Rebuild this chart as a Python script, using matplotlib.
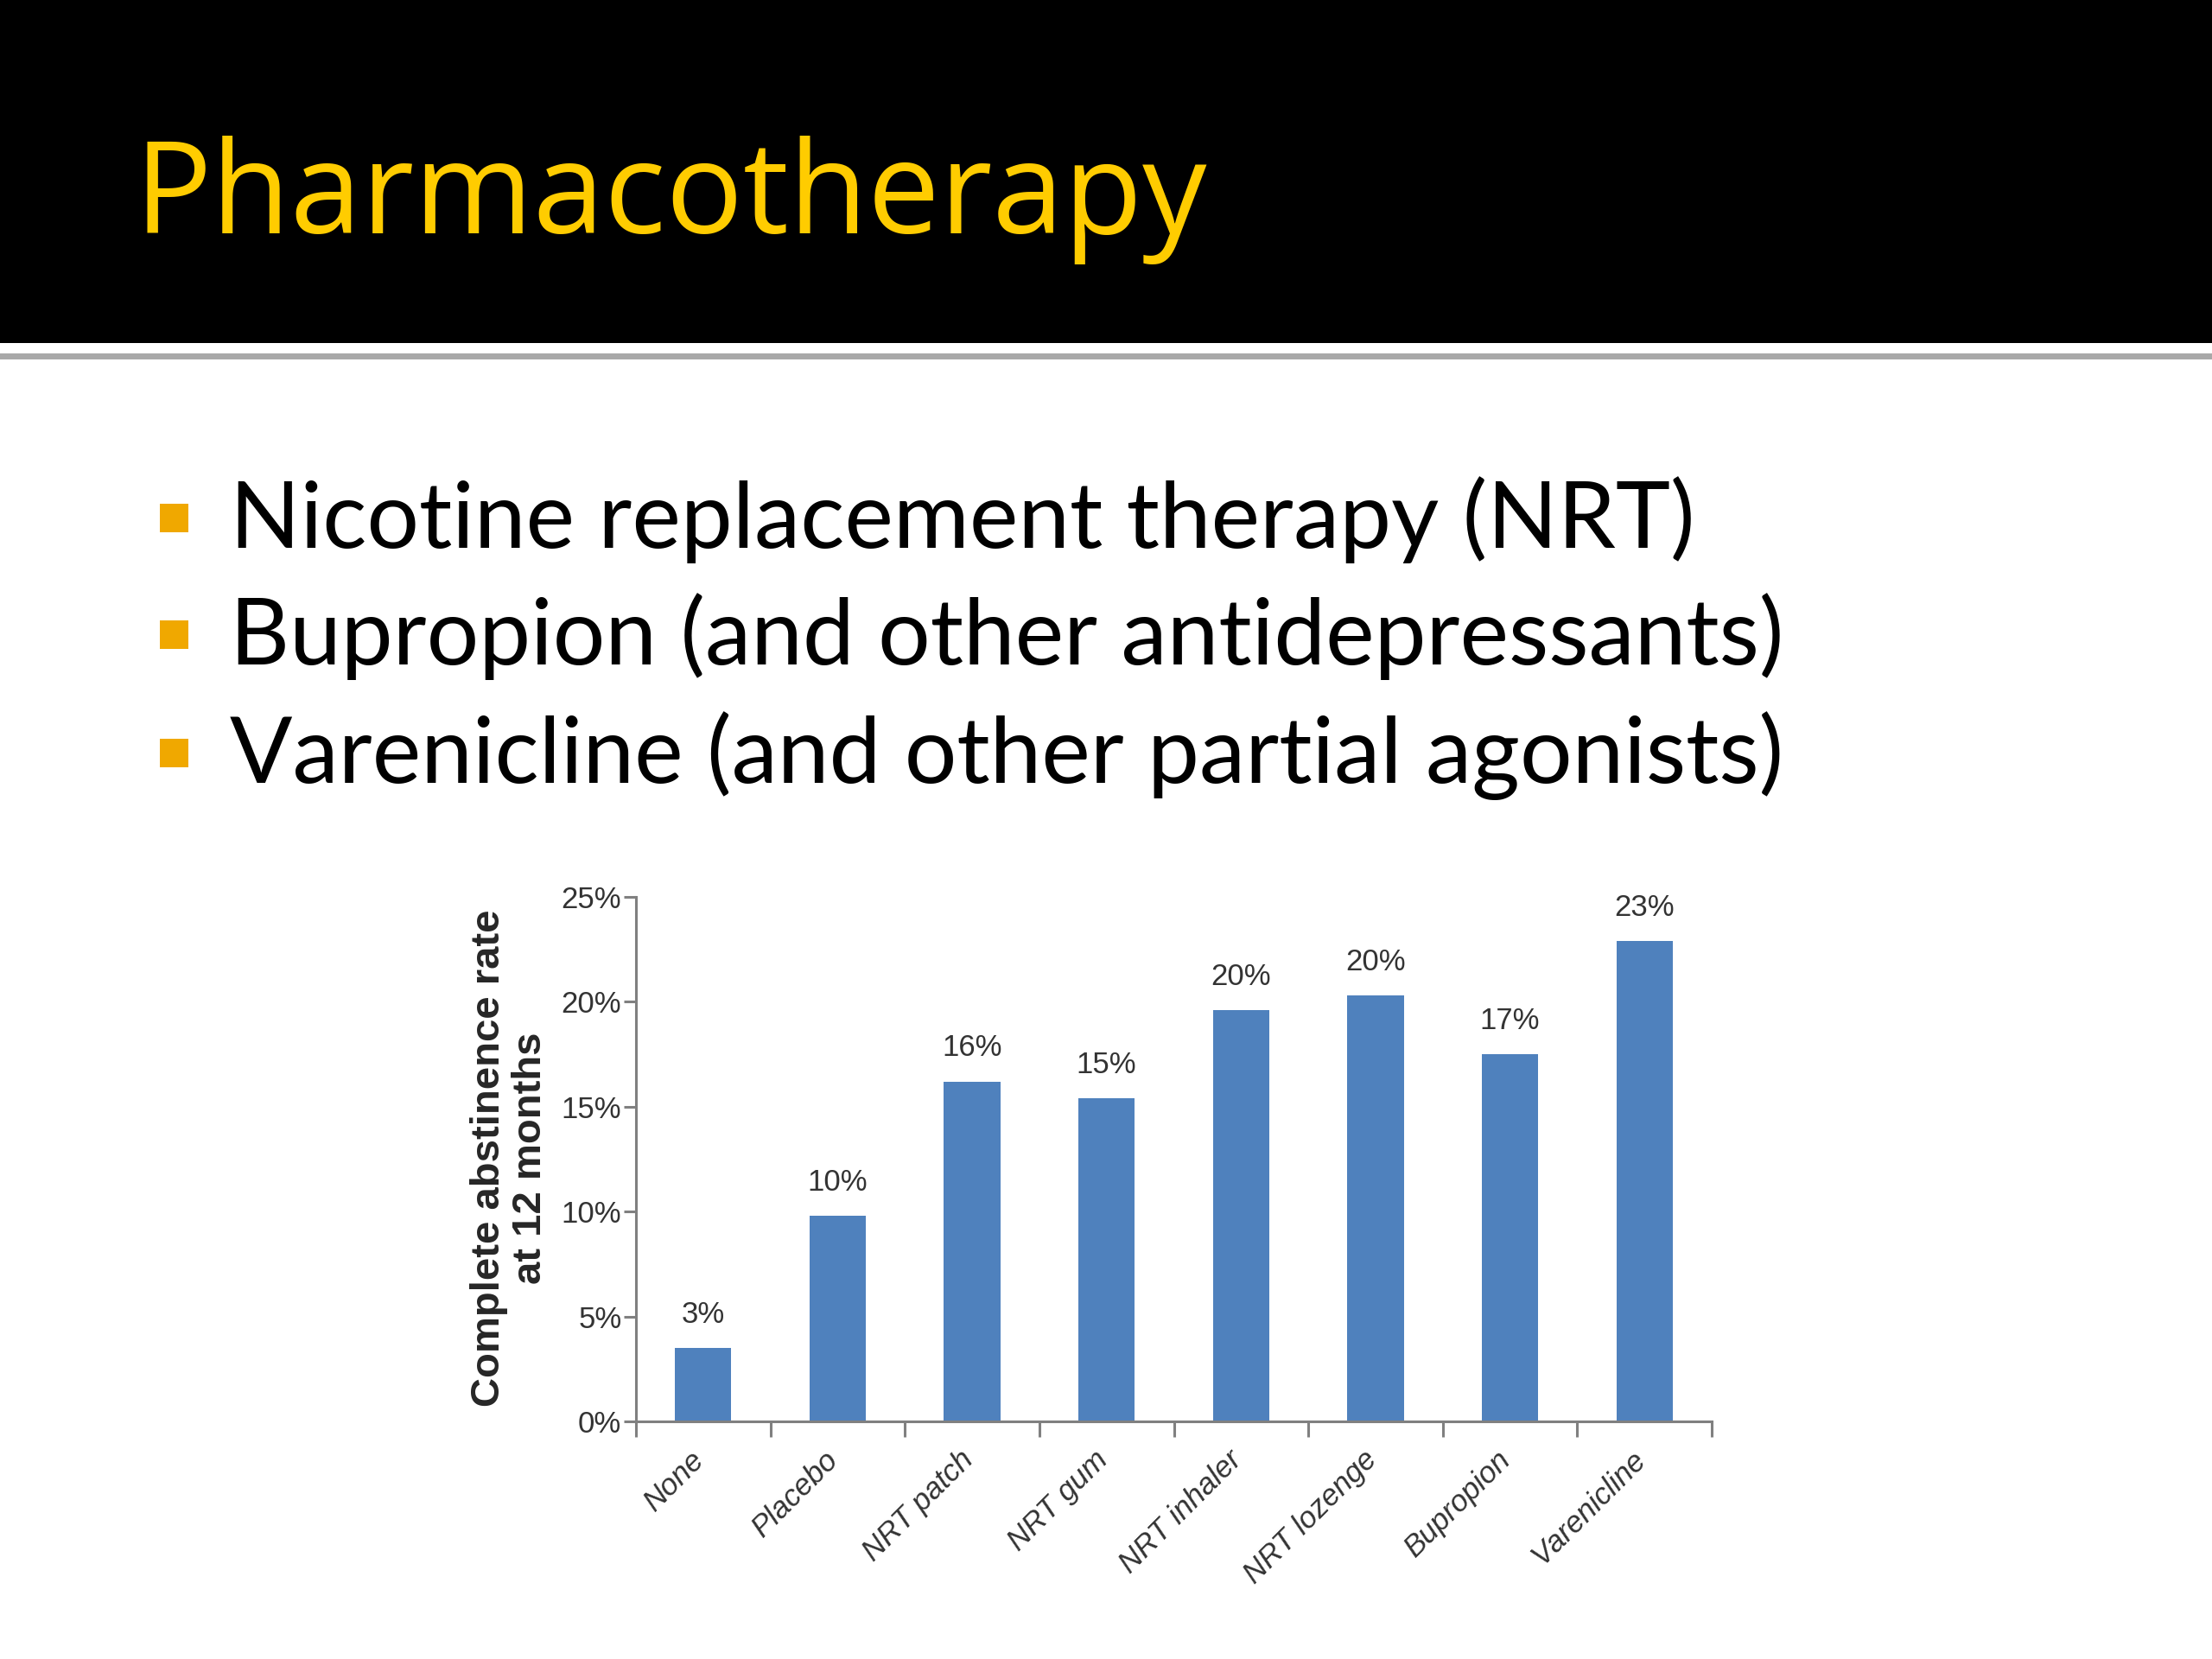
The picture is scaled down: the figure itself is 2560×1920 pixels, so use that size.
import matplotlib as mpl
mpl.use("Agg")
import matplotlib.pyplot as plt
from matplotlib.patches import Rectangle
from matplotlib.ticker import FuncFormatter

title = "Pharmacotherapy"
bullets = [
    "Nicotine replacement therapy (NRT)",
    "Bupropion (and other antidepressants)",
    "Varenicline (and other partial agonists)",
]
categories = ["None", "Placebo", "NRT patch", "NRT gum", "NRT inhaler",
              "NRT lozenge", "Bupropion", "Varenicline"]
rates = [3.5, 9.8, 16.2, 15.4, 19.6, 20.3, 17.5, 22.9]
rate_labels = ["3%", "10%", "16%", "15%", "20%", "20%", "17%", "23%"]
y_ticks = [0, 5, 10, 15, 20, 25]
y_label = "Complete abstinence rate\nat 12 months"

W, H = 2560, 1920


def fx(px):
    return px / W


def fy(px):
    # pixel from top -> figure fraction from bottom
    return 1 - px / H


fig = plt.figure(figsize=(25.6, 19.2), dpi=100, facecolor="white")

# header band
fig.patches.append(Rectangle((0, fy(397)), 1, 397 / H, transform=fig.transFigure,
                             facecolor="black", edgecolor="none", zorder=0))
fig.patches.append(Rectangle((0, fy(416)), 1, 7 / H, transform=fig.transFigure,
                             facecolor="#a8a8a8", edgecolor="none", zorder=0))
fig.text(fx(156), fy(270), title, fontsize=107, color="#FFCC00",
         family="Open Sans", va="baseline", ha="left")

# bullets
baselines = [634, 769, 906]
for txt, b in zip(bullets, baselines):
    fig.patches.append(Rectangle((fx(185), fy(b - 18)), 33 / W, 33 / H,
                                 transform=fig.transFigure,
                                 facecolor="#F0A800", edgecolor="none"))
    fig.text(fx(266), fy(b), txt, fontsize=77, color="black",
             family="Lato", va="baseline", ha="left")

# chart
ax = fig.add_axes([fx(736), fy(1645), fx(1981) - fx(736), (1645 - 1038) / H])
x = range(len(categories))
ax.bar(x, rates, width=0.42, color="#4F81BD", zorder=2)
for xi, v, lab in zip(x, rates, rate_labels):
    ax.annotate(lab, (xi, v), xytext=(0, 16), textcoords="offset points",
                ha="center", va="bottom", fontsize=25, color="#333333",
                family="Liberation Sans")

ax.set_xlim(-0.5, len(categories) - 0.5)
ax.set_ylim(0, 25)
ax.set_yticks(y_ticks)
ax.yaxis.set_major_formatter(FuncFormatter(lambda v, p: f"{int(v)}%"))

# boundary ticks, labels slightly left of the bar centres
ax.set_xticks([i - 0.5 for i in range(len(categories) + 1)])
ax.set_xticklabels([])
ax.set_xticks([i - 0.1 for i in x], minor=True)
ax.set_xticklabels(categories, minor=True, rotation=45, ha="right", va="top",
                   rotation_mode="anchor", fontsize=25, color="#333333",
                   family="Liberation Sans", style="italic")
ax.tick_params(axis="x", which="minor", length=0, pad=20)
ax.tick_params(axis="x", which="major", length=13, width=2.2, color="#808080",
               direction="out")
ax.tick_params(axis="y", length=10, width=2.2, color="#808080", direction="out",
               labelsize=25, labelcolor="#333333", pad=2)
for lab in ax.get_yticklabels():
    lab.set_family("Liberation Sans")

for s in ["top", "right"]:
    ax.spines[s].set_visible(False)
for s in ["left", "bottom"]:
    ax.spines[s].set_color("#808080")
    ax.spines[s].set_linewidth(2.2)

fig.text(fx(590), fy(1340), y_label, rotation=90, ha="center", va="center",
         multialignment="center", fontsize=34, fontweight="bold",
         color="#262626", family="Liberation Sans", linespacing=1.1)

fig.savefig("out.png", dpi=100, facecolor="white")
